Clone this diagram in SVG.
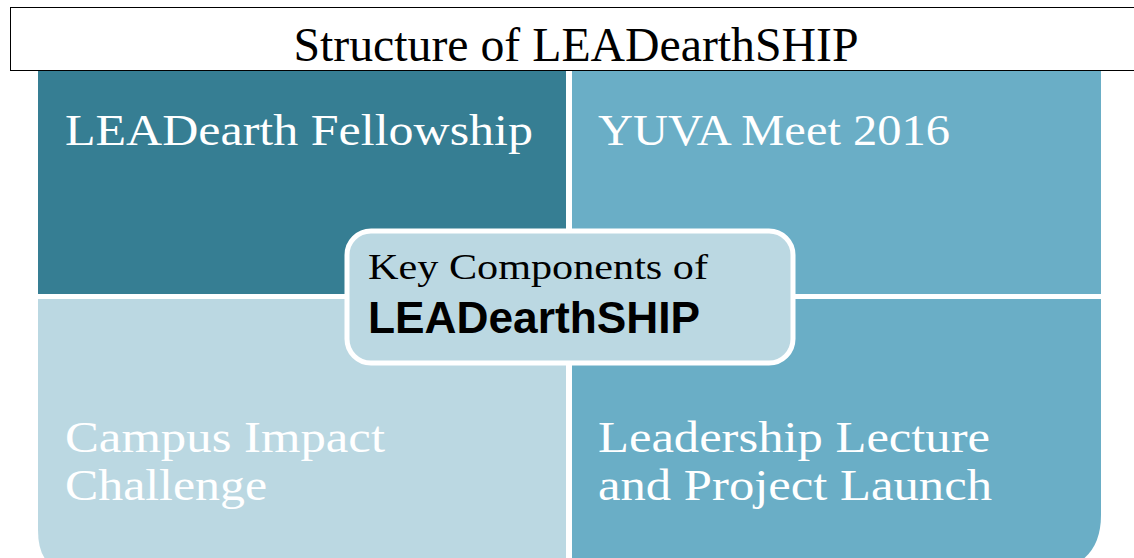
<svg xmlns="http://www.w3.org/2000/svg" width="1134" height="558" viewBox="0 0 1134 558">
<style>
.q{font-family:"Liberation Serif","DejaVu Serif",serif;fill:#ffffff;font-size:44px}
.c{font-family:"Liberation Serif","DejaVu Serif",serif;fill:#000;font-size:36px}
.b{font-family:"Liberation Sans","DejaVu Sans",sans-serif;font-weight:bold;fill:#000;font-size:44px}
.t{font-family:"Liberation Serif","DejaVu Serif",serif;fill:#000;font-size:48px}
</style>
<rect width="1134" height="558" fill="#ffffff"/>
<g id="title">
<rect x="10.5" y="7.5" width="1130" height="63" fill="#ffffff" stroke="#000" stroke-width="1"/>
<text class="t" x="576" y="61" text-anchor="middle" textLength="565" lengthAdjust="spacingAndGlyphs">Structure of LEADearthSHIP</text>
</g>
<g id="q1">
<rect x="38" y="71" width="528" height="223" fill="#367E93"/>
<text class="q" x="65" y="145" textLength="468" lengthAdjust="spacingAndGlyphs">LEADearth Fellowship</text>
</g>
<g id="q2">
<rect x="572" y="71" width="529" height="223" fill="#6AAEC6"/>
<text class="q" x="598" y="145" textLength="352" lengthAdjust="spacingAndGlyphs">YUVA Meet 2016</text>
</g>
<g id="q3">
<path d="M38,299 H566 V570 H70 Q38,570 38,530 Z" fill="#BBD8E2"/>
<text class="q" x="65" y="452" textLength="320" lengthAdjust="spacingAndGlyphs">Campus Impact</text>
<text class="q" x="65" y="500" textLength="202" lengthAdjust="spacingAndGlyphs">Challenge</text>
</g>
<g id="q4">
<path d="M572,299 H1101 V515 Q1101,560 1060,570 H572 Z" fill="#6AAEC6"/>
<text class="q" x="598" y="452" textLength="392" lengthAdjust="spacingAndGlyphs">Leadership Lecture</text>
<text class="q" x="598" y="500" textLength="394" lengthAdjust="spacingAndGlyphs">and Project Launch</text>
</g>
<g id="center">
<rect x="347" y="231" width="446" height="132" rx="24" fill="#BBD8E2" stroke="#ffffff" stroke-width="5"/>
<text class="c" x="368" y="279" textLength="340" lengthAdjust="spacingAndGlyphs">Key Components of</text>
<text class="b" x="368" y="333" textLength="332" lengthAdjust="spacingAndGlyphs">LEADearthSHIP</text>
</g>
<g id="connectors"></g>
</svg>
